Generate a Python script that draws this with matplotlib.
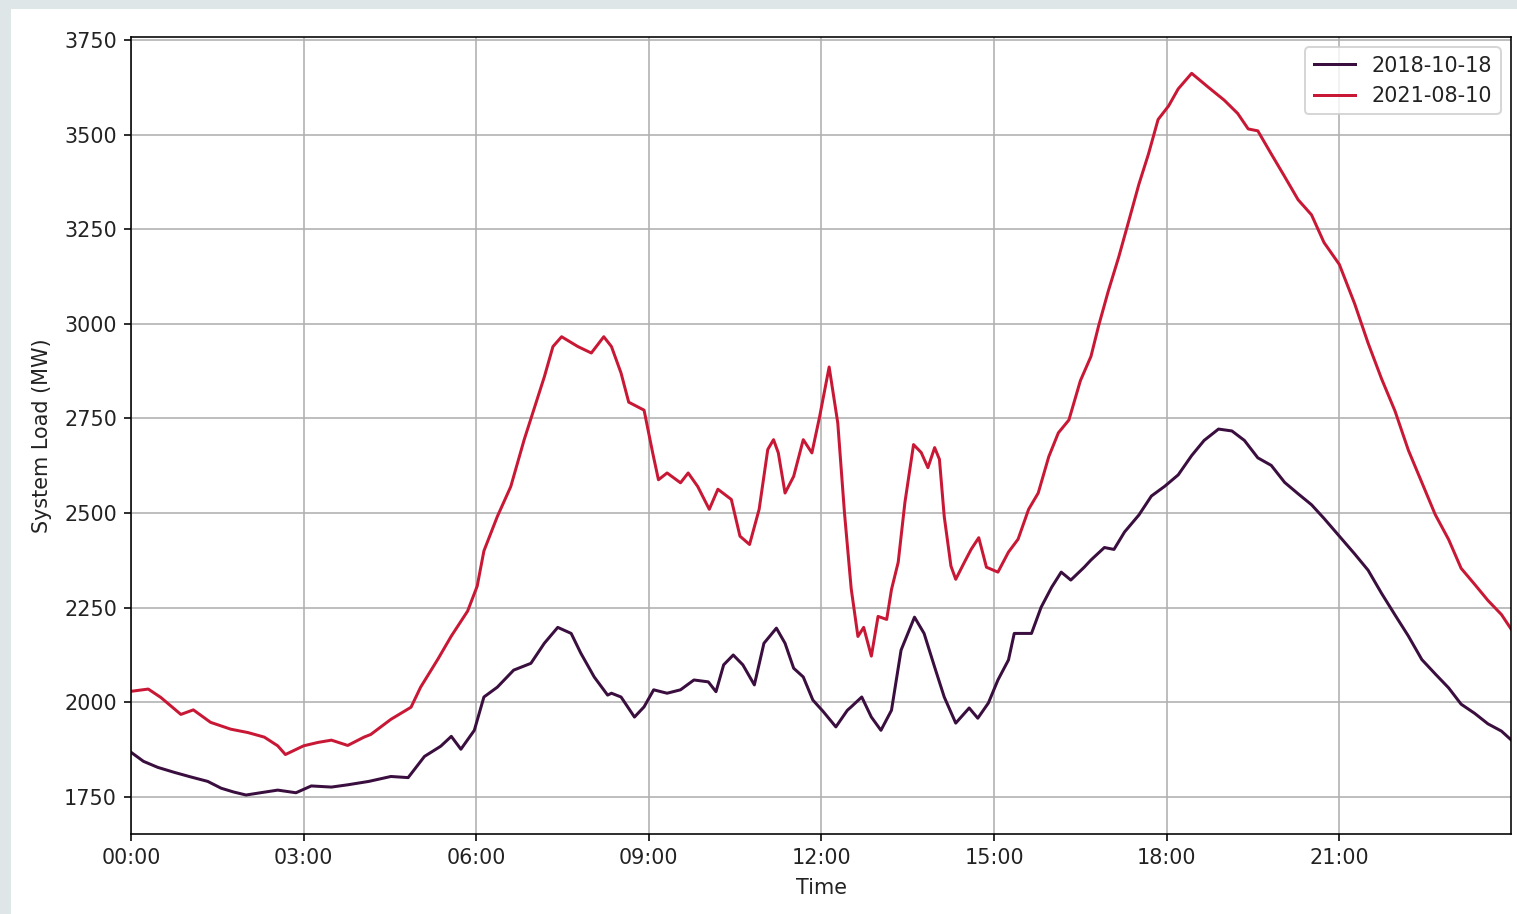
import matplotlib
matplotlib.use("Agg")
import matplotlib.pyplot as plt
from matplotlib.patches import Rectangle

# readings taken off the two daily load curves (time of day, MW)
load_2018_t = ["00:00", "00:13", "00:28", "00:45", "01:02", "01:20", "01:34", "01:47", "02:00", "02:15",
               "02:33", "02:52", "03:08", "03:29", "03:46", "04:08", "04:31", "04:49", "05:06", "05:23",
               "05:34", "05:44", "05:58", "06:08", "06:22", "06:39", "06:57", "07:11", "07:25", "07:39",
               "07:49", "08:03", "08:17", "08:21", "08:31", "08:45", "08:55", "09:05", "09:19", "09:33",
               "09:47", "10:02", "10:10", "10:18", "10:28", "10:38", "10:50", "11:00", "11:13", "11:22",
               "11:31", "11:41", "11:51", "12:02", "12:15", "12:27", "12:31", "12:42", "12:52", "13:02",
               "13:13", "13:23", "13:37", "13:47", "13:58", "14:08", "14:20", "14:34", "14:43", "14:54",
               "15:04", "15:15", "15:21", "15:39", "15:49", "16:00", "16:10", "16:20", "16:34", "16:41",
               "16:55", "17:05", "17:16", "17:31", "17:44", "17:58", "18:12", "18:26", "18:39", "18:54",
               "19:08", "19:21", "19:35", "19:49", "20:03", "20:17", "20:31", "20:44", "21:00", "21:16",
               "21:30", "21:44", "21:58", "22:12", "22:26", "22:40", "22:54", "23:07", "23:21", "23:35",
               "23:49", "23:59"]
load_2018 = [1868, 1844, 1828, 1815, 1803, 1791, 1773, 1763, 1755, 1761,
             1768, 1761, 1779, 1776, 1782, 1791, 1804, 1801, 1857, 1884,
             1910, 1876, 1926, 2014, 2040, 2085, 2103, 2156, 2198, 2182,
             2130, 2067, 2019, 2024, 2014, 1961, 1988, 2033, 2024, 2033,
             2059, 2054, 2028, 2099, 2125, 2099, 2046, 2156, 2196, 2156,
             2090, 2067, 2006, 1975, 1935, 1979, 1988, 2014, 1961, 1926,
             1979, 2138, 2225, 2182, 2093, 2014, 1945, 1985, 1958, 1998,
             2059, 2112, 2182, 2182, 2251, 2304, 2344, 2323, 2357, 2376,
             2409, 2404, 2450, 2495, 2545, 2571, 2601, 2652, 2692, 2722,
             2717, 2692, 2646, 2626, 2581, 2551, 2522, 2486, 2439, 2392,
             2349, 2288, 2231, 2175, 2113, 2075, 2038, 1995, 1971, 1943,
             1924, 1901]

load_2021_t = ["00:00", "00:18", "00:31", "00:52", "01:05", "01:23", "01:44", "02:02", "02:19", "02:33",
               "02:41", "03:00", "03:15", "03:29", "03:46", "04:03", "04:10", "04:31", "04:52", "05:02",
               "05:20", "05:34", "05:51", "06:01", "06:08", "06:22", "06:36", "06:50", "07:00", "07:11",
               "07:20", "07:29", "07:46", "08:00", "08:13", "08:21", "08:31", "08:39", "08:55", "09:04",
               "09:10", "09:19", "09:33", "09:41", "09:51", "10:03", "10:12", "10:26", "10:35", "10:45",
               "10:55", "11:04", "11:10", "11:15", "11:22", "11:31", "11:41", "11:50", "11:58", "12:08",
               "12:17", "12:24", "12:31", "12:38", "12:44", "12:52", "12:59", "13:08", "13:13", "13:20",
               "13:27", "13:36", "13:44", "13:51", "13:58", "14:03", "14:08", "14:15", "14:20", "14:29",
               "14:36", "14:44", "14:52", "15:04", "15:15", "15:25", "15:36", "15:46", "15:57", "16:07",
               "16:18", "16:30", "16:41", "16:49", "16:59", "17:10", "17:20", "17:31", "17:41", "17:51",
               "18:02", "18:12", "18:26", "18:43", "19:00", "19:14", "19:25", "19:35", "19:49", "20:03",
               "20:17", "20:31", "20:44", "21:00", "21:16", "21:30", "21:44", "21:58", "22:12", "22:26",
               "22:40", "22:54", "23:07", "23:21", "23:35", "23:49", "23:59"]
load_2021 = [2029, 2035, 2013, 1968, 1980, 1947, 1929, 1920, 1908, 1885,
             1862, 1885, 1894, 1900, 1886, 1908, 1915, 1955, 1987, 2040,
             2114, 2175, 2241, 2307, 2400, 2491, 2570, 2694, 2773, 2860,
             2940, 2966, 2940, 2923, 2966, 2940, 2870, 2793, 2772, 2659,
             2588, 2606, 2580, 2606, 2570, 2510, 2563, 2536, 2439, 2417,
             2510, 2668, 2694, 2659, 2553, 2597, 2694, 2659, 2754, 2886,
             2738, 2500, 2300, 2174, 2198, 2122, 2227, 2219, 2298, 2370,
             2528, 2681, 2660, 2620, 2673, 2642, 2491, 2360, 2325, 2370,
             2404, 2435, 2357, 2344, 2397, 2431, 2510, 2553, 2649, 2712,
             2746, 2850, 2914, 2995, 3086, 3177, 3268, 3369, 3449, 3540,
             3576, 3621, 3662, 3626, 3591, 3556, 3515, 3510, 3449, 3389,
             3328, 3288, 3215, 3157, 3053, 2949, 2855, 2770, 2666, 2581,
             2496, 2430, 2354, 2312, 2269, 2232, 2194]

x_ticks = ["00:00", "03:00", "06:00", "09:00", "12:00", "15:00", "18:00", "21:00"]
y_ticks = [1750, 2000, 2250, 2500, 2750, 3000, 3250, 3500, 3750]


def to_hours(t):
    h, m = t.split(":")
    return int(h) + int(m) / 60


plt.rcParams["font.size"] = 10.4
plt.rcParams["text.color"] = "#222222"
plt.rcParams["xtick.labelcolor"] = "#222222"
plt.rcParams["ytick.labelcolor"] = "#222222"
plt.rcParams["axes.labelcolor"] = "#222222"

fig = plt.figure(figsize=(1517 / 144, 914 / 144), dpi=144)
# grey screenshot edge on the top and left
fig.patches.append(Rectangle((0, 0), 10 / 1517, 1, transform=fig.transFigure,
                             color="#dee6e8", zorder=-1))
fig.patches.append(Rectangle((0, 1 - 8 / 914), 1, 8 / 914, transform=fig.transFigure,
                             color="#dee6e8", zorder=-1))

ax = fig.add_axes([131 / 1517, 1 - 834 / 914, 1380 / 1517, 797 / 914])
ax.plot([to_hours(t) for t in load_2018_t], load_2018, color="#3a0e3e", lw=1.5, label="2018-10-18")
ax.plot([to_hours(t) for t in load_2021_t], load_2021, color="#c81835", lw=1.5, label="2021-08-10")

ax.set_xlim(0, 23 + 59 / 60)
ax.set_ylim(1652, 3758)
ax.set_xticks([to_hours(t) for t in x_ticks])
ax.set_xticklabels(x_ticks)
ax.set_yticks(y_ticks)
ax.grid(True)
ax.set_xlabel("Time", labelpad=5)
ax.set_ylabel("System Load (MW)", labelpad=6)
ax.legend(loc="upper right")

fig.savefig("out.png", dpi=144)
